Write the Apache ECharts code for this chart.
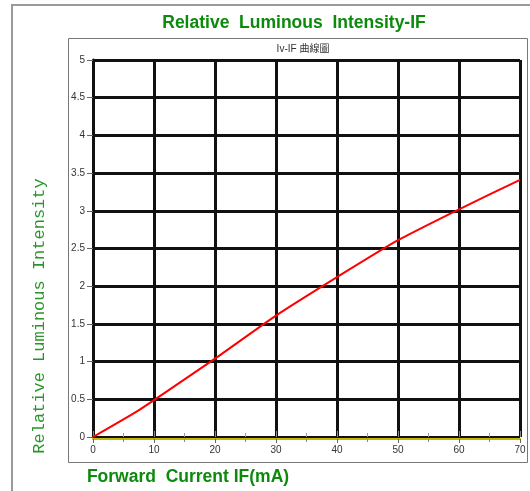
<!DOCTYPE html>
<html>
<head>
<meta charset="utf-8">
<script src="https://cdn.jsdelivr.net/npm/echarts@6/dist/echarts.min.js"></script>
<style>
html,body{margin:0;padding:0;background:#fff;}
#c{width:530px;height:491px;}
</style>
</head>
<body>
<div id="c"></div>
<script>
// Data
const currentIF = [0, 7, 10, 20, 30, 40, 50, 60, 70];
const relIntensity = [0, 0.33, 0.49, 1.04, 1.61, 2.12, 2.61, 3.02, 3.41];
const xTicks = [0, 10, 20, 30, 40, 50, 60, 70];
const yTicks = [0, 0.5, 1, 1.5, 2, 2.5, 3, 3.5, 4, 4.5, 5];

const chartTitle = 'Relative  Luminous  Intensity-IF';
const chartSubtitle = 'Iv-IF 曲線圖';
const xName = 'Forward  Current IF(mA)';
const yName = 'Relative Luminous Intensity';

const green = '#0b8a0b';
const chart = echarts.init(document.getElementById('c'), null, {renderer: 'canvas'});

const points = currentIF.map((x, i) => [x, relIntensity[i]]);

chart.setOption({
  animation: false,
  backgroundColor: '#fff',
  title: [
    {text: chartTitle, left: 289, top: 9, textAlign: 'center',
     textStyle: {fontFamily: 'Liberation Sans, Arial', fontWeight: 'bold', fontSize: 17.5, color: green}},
    {text: chartSubtitle, left: 298, top: 39, textAlign: 'center',
     textStyle: {fontFamily: 'Liberation Sans, Noto Sans CJK TC', fontWeight: 'normal', fontSize: 10, color: '#333'}}
  ],
  graphic: [
    {type: 'polyline', shape: {points: [[12, 491], [12, 5], [530, 5]]}, style: {stroke: '#9a9a9a', lineWidth: 2, fill: null}, silent: true},
    {type: 'rect', shape: {x: 68.5, y: 38.5, width: 459, height: 424}, style: {stroke: '#777', lineWidth: 1, fill: null}, silent: true},
    {type: 'text', x: 188, y: 477, style: {text: xName, font: 'bold 17.5px "Liberation Sans", Arial', fill: green, textAlign: 'center', textVerticalAlign: 'middle'}, silent: true},
    {type: 'text', x: 39, y: 316, rotation: Math.PI / 2, style: {text: yName, font: '17px "Liberation Mono", "Courier New", monospace', fill: '#2a962a', textAlign: 'center', textVerticalAlign: 'middle'}, silent: true}
  ],
  grid: {left: 93, right: 10, top: 60, bottom: 54, containLabel: false},
  xAxis: [
    {
      type: 'value', min: xTicks[0], max: xTicks[xTicks.length - 1], interval: 10, position: 'bottom', offset: 2,
      axisLine: {show: true, onZero: false, lineStyle: {color: '#c4b800', width: 2}},
      axisTick: {show: true, length: 4, lineStyle: {color: '#666', width: 1}},
      minorTick: {show: true, splitNumber: 2, length: 3, lineStyle: {color: '#888', width: 1}},
      axisLabel: {color: '#333', fontSize: 10, fontFamily: 'Liberation Sans, Arial', margin: 6,
                  formatter: v => (xTicks.indexOf(v) >= 0 ? String(v) : '')},
      splitLine: {show: true, lineStyle: {color: '#111', width: 3}}
    },
    {
      type: 'value', min: xTicks[0], max: xTicks[xTicks.length - 1], interval: 10, position: 'top',
      axisLine: {show: false},
      axisTick: {show: true, length: 6, lineStyle: {color: '#888', width: 1}},
      minorTick: {show: true, splitNumber: 2, length: 4, lineStyle: {color: '#999', width: 1}},
      axisLabel: {show: false},
      splitLine: {show: false}
    }
  ],
  yAxis: {
    type: 'value', min: yTicks[0], max: yTicks[yTicks.length - 1], interval: 0.5,
    axisLine: {show: true, onZero: false, lineStyle: {color: '#111', width: 3}},
    axisTick: {show: true, inside: false, length: 6, lineStyle: {color: '#666', width: 1}},
    axisLabel: {color: '#333', fontSize: 10, fontFamily: 'Liberation Sans, Arial', margin: 8,
                formatter: v => String(v)},
    splitLine: {show: true, lineStyle: {color: '#111', width: 3}}
  },
  series: [{
    type: 'line', data: points, xAxisIndex: 0, showSymbol: false, smooth: 0.2,
    lineStyle: {color: '#ff0000', width: 2}, z: 5
  }]
});
</script>
</body>
</html>
